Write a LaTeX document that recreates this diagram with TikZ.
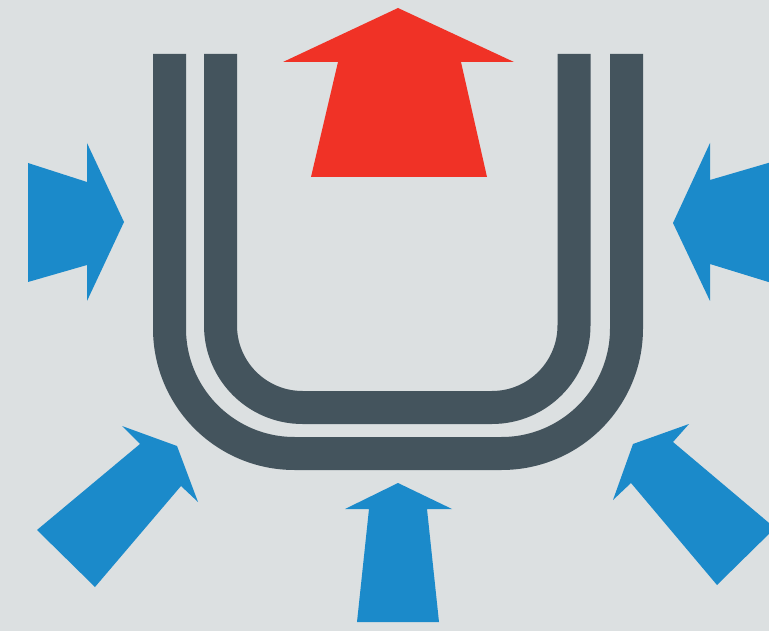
\documentclass[tikz,border=0pt]{standalone}
\usepackage{tikz}
\definecolor{bgGray}{HTML}{DCE0E1}
\definecolor{pipeGray}{HTML}{44545D}
\definecolor{hotRed}{HTML}{F03226}
\definecolor{coldBlue}{HTML}{1B8ACA}

\begin{document}
\begin{tikzpicture}[x=1pt,y=-1pt,
  pipe/.style={draw=pipeGray,line width=33pt},
  inflow/.style={fill=coldBlue},
  outflow/.style={fill=hotRed}]
\useasboundingbox (0,0) rectangle (769,631);
\fill[bgGray] (0,0) rectangle (769,631);
\clip (0,0) rectangle (769,631);
\draw[pipe] (169.5,54) -- (169.5,328.5) arc[start angle=180,end angle=90,radius=125] -- (501.5,453.5) arc[start angle=90,end angle=0,radius=125] -- (626.5,54);
\draw[pipe] (220.5,54) -- (220.5,325.5) arc[start angle=180,end angle=90,radius=82] -- (492,407.5) arc[start angle=90,end angle=0,radius=82] -- (574,54);
\fill[outflow] (398,8) -- (514,62) -- (461,62) -- (487,177) -- (311,177) -- (338,62) -- (283,62) -- cycle;
\fill[inflow] (124,222) -- (87,301) -- (87,265) -- (28,282) -- (28,163) -- (87,182) -- (87,143) -- cycle;
\fill[inflow] (673,223) -- (710,143) -- (710,180) -- (775,161) -- (775,284) -- (710,264) -- (710,301) -- cycle;
\fill[inflow] (398,483) -- (452,509) -- (427,509) -- (439,622) -- (357,622) -- (369,509) -- (345,509) -- cycle;
\fill[inflow] (177,446) -- (198,502) -- (181,486) -- (95,587) -- (37,530) -- (140,444) -- (122,426) -- cycle;
\fill[inflow] (633,444) -- (689,424) -- (673,442) -- (775,528) -- (717,585) -- (631,483) -- (613,500) -- cycle;
\end{tikzpicture}
\end{document}
